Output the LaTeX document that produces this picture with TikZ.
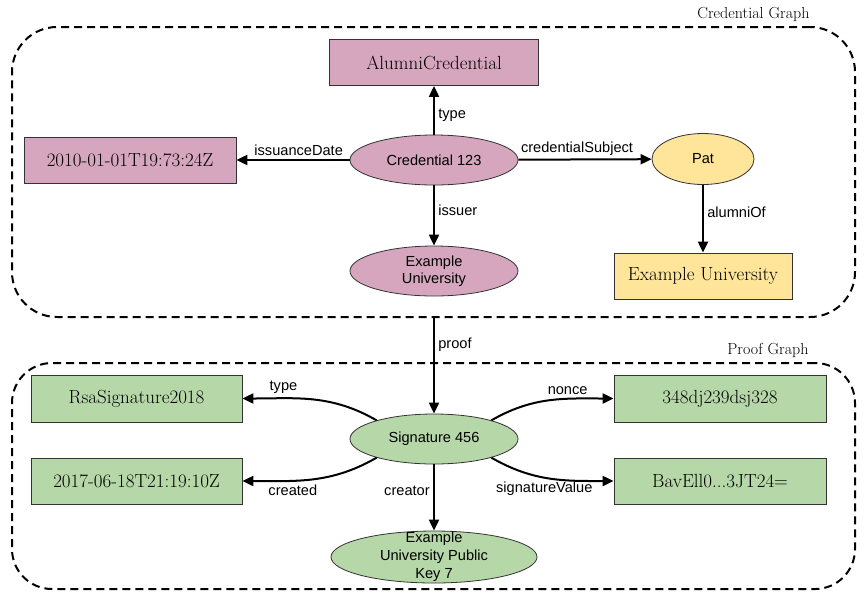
\documentclass[tikz,border=0pt]{standalone}
\usepackage{fontspec}
\setsansfont{Liberation Sans}
\usetikzlibrary{shapes.geometric}
\usetikzlibrary{arrows.meta}

\definecolor{credpink}{HTML}{D5A6BD}
\definecolor{subjyellow}{HTML}{FFE599}
\definecolor{proofgreen}{HTML}{B6D7A8}
\definecolor{edgegray}{HTML}{333333}

\begin{document}
\begin{tikzpicture}[x=1pt,y=-1pt,
    graphframe/.style={draw, line width=2pt, dash pattern=on 8pt off 5pt, rounded corners=45pt, minimum width=843pt, inner sep=0pt},
    framelabel/.style={font=\fontsize{16}{19}\selectfont, anchor=east},
    valbox/.style={draw=edgegray, line width=0.8pt, minimum width=211pt, minimum height=46pt, inner sep=0pt, font=\fontsize{19}{22}\selectfont},
    resnode/.style={ellipse, draw=edgegray, line width=0.8pt, minimum width=168pt, minimum height=50pt, inner sep=0pt, align=center, font=\sffamily\fontsize{14.6}{17}\selectfont},
    prop/.style={font=\sffamily\fontsize{14.6}{18}\selectfont},
    rel/.style={line width=2pt, -{Triangle[length=11pt,width=10pt]}}]

    \useasboundingbox (0,0) rectangle (866,598);

    \node[graphframe, minimum height=290pt] (credgraph) at (433.5,172) {};
    \node[graphframe, minimum height=226pt, rounded corners=40pt] (proofgraph) at (433.5,476) {};
    \node[framelabel] (credtitle) at (813,14) {Credential Graph};
    \node[framelabel] (prooftitle) at (812,350) {Proof Graph};

    \node[valbox, fill=credpink, minimum width=209pt] (alumni) at (434,62.5) {AlumniCredential};
    \node[valbox, fill=credpink, minimum width=212pt] (issued) at (130,160) {2010-01-01T19:73:24Z};
    \node[resnode, fill=credpink] (cred) at (434,160) {Credential 123};
    \node[resnode, fill=credpink] (issuer) at (434,271) {Example\\University};
    \node[resnode, fill=subjyellow, minimum width=102pt, minimum height=51pt] (pat) at (703,159) {Pat};
    \node[valbox, fill=subjyellow, minimum width=178pt] (school) at (703,276) {Example University};

    \node[resnode, fill=proofgreen] (sig) at (434,439) {Signature 456};
    \node[valbox, fill=proofgreen, minimum height=47pt] (sigtype) at (136.5,398.5) {RsaSignature2018};
    \node[valbox, fill=proofgreen] (created) at (136.5,481) {2017-06-18T21:19:10Z};
    \node[valbox, fill=proofgreen, minimum width=212pt, minimum height=47pt] (nonce) at (720,398.5) {348dj239dsj328};
    \node[valbox, fill=proofgreen, minimum width=212pt] (sigval) at (720,481) {BavEll0...3JT24=};
    \node[resnode, fill=proofgreen, minimum width=206pt, minimum height=52pt] (key) at (434,557) {};
    \node[prop, align=center] (keytext) at (key.center) {Example\\University Public\\Key 7};

    \draw[rel] (cred) -- (alumni) node[prop, right, pos=0.4] {type};
    \draw[rel] (cred) -- (issued) node[prop, above, pos=0.45] {issuanceDate};
    \draw[rel] (cred) -- (pat) node[prop, above, pos=0.44] {credentialSubject};
    \draw[rel] (cred) -- (issuer) node[prop, right, pos=0.41] {issuer};
    \draw[rel] (pat) -- (school) node[prop, right, pos=0.4] {alumniOf};

    \draw[rel] (sig.north |- credgraph.south) -- (sig) node[prop, right, pos=0.28] {proof};

    \draw[rel] (sig.162) to[out=150, in=0] node[prop, above, pos=0.72] {type} (sigtype);
    \draw[rel] (sig.198) to[out=210, in=0] node[prop, below, pos=0.65] {created} (created);
    \draw[rel] (sig.18) to[out=30, in=180] node[prop, above, pos=0.65] {nonce} (nonce);
    \draw[rel] (sig.342) to[out=-30, in=180] node[prop, below, pos=0.45] {signatureValue} (sigval);
    \draw[rel] (sig) -- (key) node[prop, left, pos=0.4] {creator};
\end{tikzpicture}
\end{document}
